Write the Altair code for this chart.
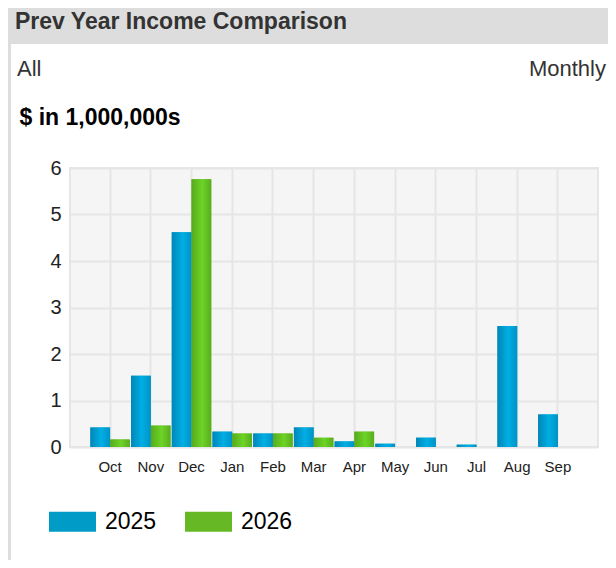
import altair as alt
import pandas as pd

# ---- data ----
months = ["Oct", "Nov", "Dec", "Jan", "Feb", "Mar", "Apr", "May", "Jun", "Jul", "Aug", "Sep"]
years = ["2025", "2026"]
v2025 = [0.42, 1.53, 4.62, 0.33, 0.29, 0.42, 0.12, 0.07, 0.20, 0.05, 2.60, 0.70]
v2026 = [0.16, 0.46, 5.76, 0.29, 0.29, 0.20, 0.33, None, None, None, None, None]
y_ticks = [0, 1, 2, 3, 4, 5, 6]

header_text = ["Prev Year Income Comparison"]
left_text = ["All"]
right_text = ["Monthly"]
unit_text = "$ in 1,000,000s"

rows = []
for yr, vals in zip(years, [v2025, v2026]):
    for m, v in zip(months, vals):
        if v is not None:
            rows.append({"month": m, "year": yr, "value": v})
df = pd.DataFrame(rows)

FONT = "Liberation Sans"
GRID = "#e6e6e6"

one = pd.DataFrame({"k": [0]})

# ---- decorative card ----
header_band = alt.Chart(one).mark_rect(color="#dddddd", cornerRadiusTopLeft=8).encode(
    x=alt.value(-65), x2=alt.value(546), y=alt.value(-165), y2=alt.value(-124)
)
left_border = alt.Chart(one).mark_rect(color="#dddddd").encode(
    x=alt.value(-62), x2=alt.value(-59), y=alt.value(-124), y2=alt.value(420)
)

title = alt.Chart(pd.DataFrame({"t": header_text})).mark_text(
    align="left", baseline="middle", fontSize=23, fontWeight="bold", color="#333333", font=FONT
).encode(x=alt.value(-55), y=alt.value(-146), text="t:N")

all_txt = alt.Chart(pd.DataFrame({"t": left_text})).mark_text(
    align="left", baseline="middle", fontSize=22, color="#333333", font=FONT
).encode(x=alt.value(-53), y=alt.value(-99), text="t:N")

monthly_txt = alt.Chart(pd.DataFrame({"t": right_text})).mark_text(
    align="right", baseline="middle", fontSize=22, color="#333333", font=FONT
).encode(x=alt.value(536), y=alt.value(-99), text="t:N")

# ---- bars ----
x_enc = alt.X(
    "month:N",
    sort=months,
    scale=alt.Scale(paddingInner=0.03, paddingOuter=0.5),
    axis=alt.Axis(
        title=None, labelAngle=0, labelFontSize=15, labelColor="#222222", labelPadding=12,
        ticks=False, domain=False, grid=True, gridColor=GRID, gridWidth=2, bandPosition=0.5,
    ),
)
xo_enc = alt.XOffset("year:N", sort=years, scale=alt.Scale(paddingInner=0, paddingOuter=0))
y_enc = alt.Y(
    "value:Q",
    scale=alt.Scale(domain=[0, 6], nice=False),
    axis=alt.Axis(
        values=y_ticks, title=unit_text, titleAngle=0, titleAlign="left", titleBaseline="middle",
        titleX=-51, titleY=-51, titleFontSize=23, titleFontWeight="bold", titleColor="#000000",
        labelFontSize=20, labelPadding=9, labelColor="#222222",
        ticks=False, domain=False, grid=True, gridColor=GRID, gridWidth=2,
    ),
)

legend_symbol = "M-1,-0.4255L1,-0.4255L1,0.4255L-1,0.4255Z"

base_bars = alt.Chart(df).mark_bar(strokeWidth=0).encode(
    x=x_enc,
    xOffset=xo_enc,
    y=y_enc,
    color=alt.Color(
        "year:N",
        sort=years,
        scale=alt.Scale(domain=years, range=["#009cc7", "#66b925"]),
        legend=alt.Legend(
            title=None, orient="none", legendX=-21, legendY=330, direction="horizontal",
            symbolType=legend_symbol, symbolSize=2209, symbolStrokeWidth=0, symbolOpacity=1,
            labelFontSize=23, labelOffset=9, columnPadding=28, padding=0, labelColor="#000000",
            labelFont=FONT,
        ),
    ),
)

blue_grad = alt.LinearGradient(
    gradient="linear", x1=0, x2=1, y1=0, y2=0,
    stops=[
        alt.GradientStop(offset=0, color="#0086b8"),
        alt.GradientStop(offset=0.55, color="#00afe4"),
        alt.GradientStop(offset=1, color="#0092c6"),
    ],
)
green_grad = alt.LinearGradient(
    gradient="linear", x1=0, x2=1, y1=0, y2=0,
    stops=[
        alt.GradientStop(offset=0, color="#58aa1c"),
        alt.GradientStop(offset=0.55, color="#6cd426"),
        alt.GradientStop(offset=1, color="#5aac1e"),
    ],
)

bars_2025 = alt.Chart(df).transform_filter(alt.datum.year == "2025").mark_bar(
    color=blue_grad, strokeWidth=0
).encode(x=x_enc, xOffset=xo_enc, y=y_enc)
bars_2026 = alt.Chart(df).transform_filter(alt.datum.year == "2026").mark_bar(
    color=green_grad, strokeWidth=0
).encode(x=x_enc, xOffset=xo_enc, y=y_enc)

chart = alt.layer(
    header_band, left_border, title, all_txt, monthly_txt, base_bars, bars_2025, bars_2026
).properties(
    width=528,
    height=279,
    autosize=alt.AutoSizeParams(type="none"),
    padding={"left": 62, "top": 160, "right": 10, "bottom": 113},
).configure(
    font=FONT,
).configure_view(
    fill="#f5f5f5", stroke=GRID, strokeWidth=2
)

chart.save("out.html", embed_options={"renderer": "svg", "actions": False})
